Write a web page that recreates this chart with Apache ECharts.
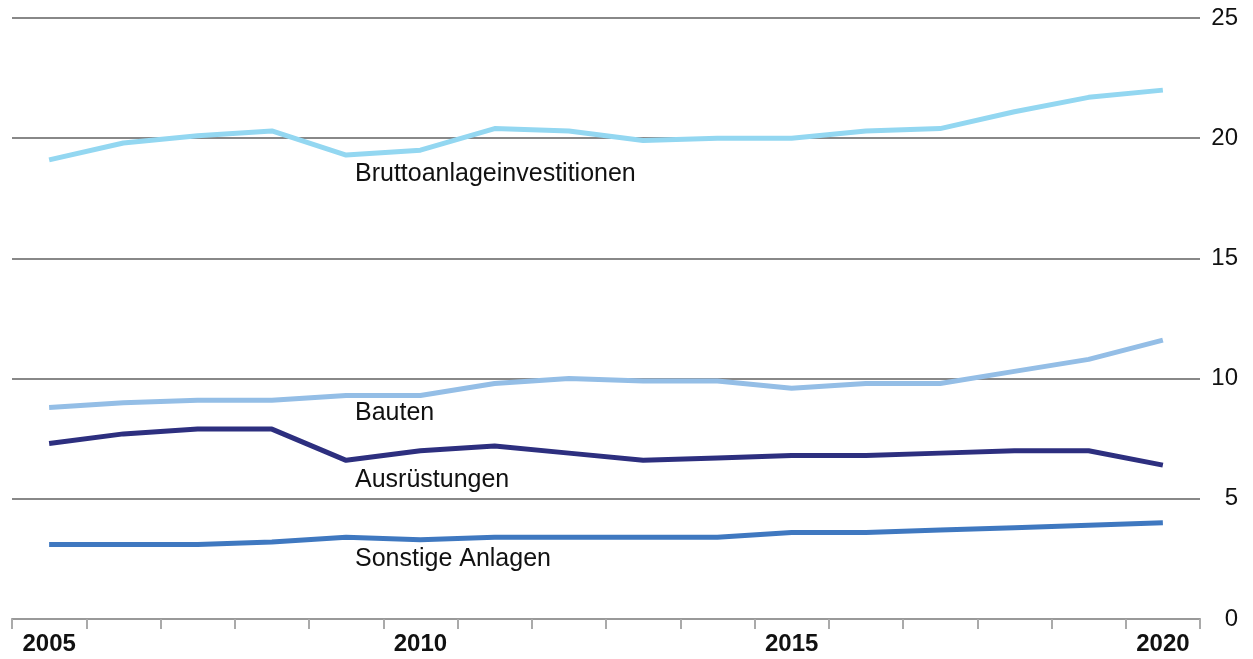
<!DOCTYPE html>
<html>
<head>
<meta charset="utf-8">
<script src="https://cdn.jsdelivr.net/npm/echarts@6/dist/echarts.min.js"></script>
<style>
  html, body { margin: 0; padding: 0; background: #fff; }
  #main { width: 1253px; height: 659px; }
</style>
</head>
<body>
<div id="main"></div>
<script>
// Jahre
var years = ['2005', '2006', '2007', '2008', '2009', '2010', '2011', '2012',
             '2013', '2014', '2015', '2016', '2017', '2018', '2019', '2020'];

// Werte
var brutto = [19.1, 19.8, 20.1, 20.3, 19.3, 19.5, 20.4, 20.3, 19.9, 20.0, 20.0, 20.3, 20.4, 21.1, 21.7, 22.0];
var bauten = [8.8, 9.0, 9.1, 9.1, 9.3, 9.3, 9.8, 10.0, 9.9, 9.9, 9.6, 9.8, 9.8, 10.3, 10.8, 11.6];
var ausruestungen = [7.3, 7.7, 7.9, 7.9, 6.6, 7.0, 7.2, 6.9, 6.6, 6.7, 6.8, 6.8, 6.9, 7.0, 7.0, 6.4];
var sonstige = [3.1, 3.1, 3.1, 3.2, 3.4, 3.3, 3.4, 3.4, 3.4, 3.4, 3.6, 3.6, 3.7, 3.8, 3.9, 4.0];

var names = ['Bruttoanlageinvestitionen', 'Bauten', 'Ausrüstungen', 'Sonstige Anlagen'];
var yTicks = [0, 5, 10, 15, 20, 25];

var FONT = '"Liberation Sans", Arial, sans-serif';

var myChart = echarts.init(document.getElementById('main'));

function line(name, data, color) {
  return {
    name: name,
    type: 'line',
    data: data,
    symbol: 'none',
    smooth: false,
    lineStyle: { color: color, width: 5 },
    itemStyle: { color: color },
    z: 3
  };
}

// Beschriftungen direkt an den Linien
function tag(text, top) {
  return {
    type: 'text',
    left: 355,
    top: top,
    style: { text: text, font: '25px ' + FONT, fill: '#111' }
  };
}

var option = {
  animation: false,
  grid: { left: 12, right: 53, top: 18, bottom: 40 },
  xAxis: {
    type: 'category',
    data: years,
    boundaryGap: true,
    axisLine: { lineStyle: { color: '#999', width: 2 } },
    axisTick: { show: true, interval: 0, length: 10, lineStyle: { color: '#aaa', width: 2 } },
    axisLabel: {
      interval: 4,
      margin: 13,
      color: '#111',
      fontFamily: FONT,
      fontSize: 24,
      fontWeight: 'bold'
    },
    splitLine: { show: false }
  },
  yAxis: {
    type: 'value',
    position: 'right',
    min: yTicks[0],
    max: yTicks[yTicks.length - 1],
    interval: 5,
    axisLine: { show: false },
    axisTick: { show: false },
    axisLabel: {
      align: 'right',
      margin: 38,
      color: '#111',
      fontFamily: FONT,
      fontSize: 24
    },
    splitLine: { lineStyle: { color: '#888', width: 2 } }
  },
  series: [
    line(names[0], brutto, '#93d7f1'),
    line(names[1], bauten, '#94bee6'),
    line(names[2], ausruestungen, '#2d2f7f'),
    line(names[3], sonstige, '#3f78c0')
  ],
  graphic: [
    tag(names[0], 162),
    tag(names[1], 401),
    tag(names[2], 468),
    tag(names[3], 547)
  ]
};

myChart.setOption(option);
</script>
</body>
</html>
